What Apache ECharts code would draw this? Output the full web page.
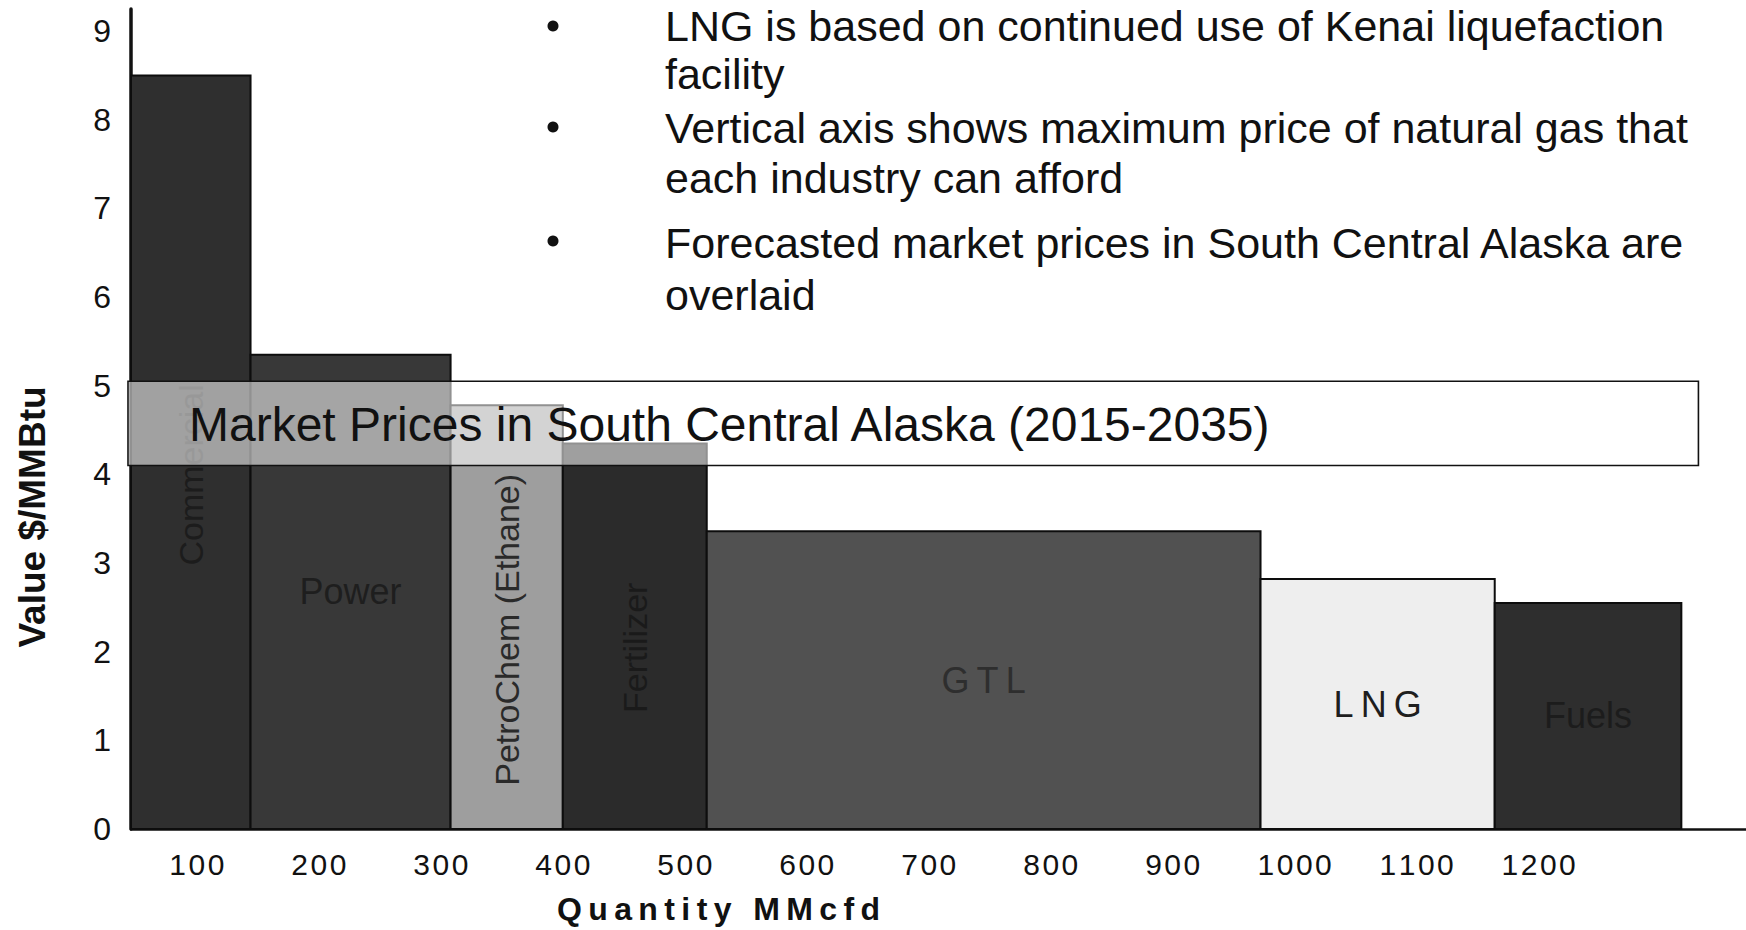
<!DOCTYPE html>
<html>
<head>
<meta charset="utf-8">
<script src="https://cdn.jsdelivr.net/npm/echarts@6/dist/echarts.min.js"></script>
<style>
  html, body { margin: 0; padding: 0; background: #ffffff; }
  #chart { width: 1746px; height: 930px; }
</style>
</head>
<body>
<div id="chart"></div>
<script>
// ---- data ----
const industries   = ['Commercial', 'Power', 'PetroChem (Ethane)', 'Fertilizer', 'GTL', 'LNG', 'Fuels'];
const qtyStart     = [46, 144, 308, 400, 518, 972, 1164];     // MMcfd, left edge of each block
const qtyEnd       = [144, 308, 400, 518, 972, 1164, 1317];   // MMcfd, right edge of each block
const maxValue     = [8.5, 5.35, 4.78, 4.35, 3.36, 2.82, 2.55]; // $/MMBtu
const marketLow    = 4.1;    // $/MMBtu
const marketHigh   = 5.05;   // $/MMBtu
const marketQty    = [46, 1331];
const marketTitle  = 'Market Prices in South Central Alaska (2015-2035)';
const xTickLabels  = [100, 200, 300, 400, 500, 600, 700, 800, 900, 1000, 1100, 1200];
const yTickLabels  = [0, 1, 2, 3, 4, 5, 6, 7, 8, 9];
const bulletLines  = [
  ['LNG is based on continued use of Kenai liquefaction', 'facility'],
  ['Vertical axis shows maximum price of natural gas that', 'each industry can afford'],
  ['Forecasted market prices in South Central Alaska are', 'overlaid']
];

// ---- styles (kept apart from data) ----
const FONT = '"Liberation Sans", Arial, Helvetica, sans-serif';
const barColors   = ['#2f2f2f', '#383838', '#9e9e9e', '#2b2b2b', '#515151', '#eeeeee', '#2e2e2e'];
const labelColors = ['#1c1c1c', '#1e1e1e', '#2a2a2a', '#1a1a1a', '#2e2e2e', '#1e1e1e', '#1c1c1c'];

const spaced = (s, sp) => String(s).split('').join(sp);

const barData = industries.map((n, i) => [qtyStart[i], qtyEnd[i], maxValue[i], n]);

const chart = echarts.init(document.getElementById('chart'), null, { renderer: 'svg' });

// bullet text graphics (each bullet = one two-line text)
const graphics = [];
const bulletY = [26, 127, 241];
const blockTop = [2, 103, 217];
const blockLH = [48, 50, 52];
bulletLines.forEach((pair, b) => {
  graphics.push({
    type: 'circle', shape: { cx: 553, cy: bulletY[b], r: 5.5 }, style: { fill: '#111' }, z: 10
  });
  graphics.push({
    type: 'text', x: 665, y: blockTop[b], z: 10,
    style: {
      text: pair.join('\n'), fill: '#111', font: '43px ' + FONT,
      lineHeight: blockLH[b], align: 'left', verticalAlign: 'top'
    }
  });
});

const option = {
  backgroundColor: '#ffffff',
  animation: false,
  grid: { left: 131, right: 0, top: 9, bottom: 98, containLabel: false },
  xAxis: {
    type: 'value', min: 46, max: 1370,
    name: spaced('Quantity MMcfd', '\u2009'),
    nameLocation: 'middle', nameGap: 64,
    nameTextStyle: { fontFamily: FONT, fontSize: 32, fontWeight: 'bold', color: '#111', padding: [0, 440, 0, 0] },
    axisLine: { show: true, onZero: true, lineStyle: { color: '#111', width: 2.5 } },
    axisTick: { show: false },
    splitLine: { show: false },
    axisLabel: {
      customValues: xTickLabels,
      formatter: v => spaced(v, '\u200A'),
      fontFamily: FONT, fontSize: 30, color: '#111', margin: 20
    }
  },
  yAxis: {
    type: 'value', min: 0, max: 9.25,
    name: 'Value $/MMBtu',
    nameLocation: 'middle', nameGap: 80, nameRotate: 90,
    nameTextStyle: { fontFamily: FONT, fontSize: 37, fontWeight: 'bold', color: '#111', padding: [0, 196, 0, 0] },
    axisLine: { show: true, lineStyle: { color: '#111', width: 3.5 } },
    axisTick: { show: false },
    splitLine: { show: false },
    axisLabel: {
      customValues: yTickLabels,
      fontFamily: FONT, fontSize: 32, color: '#111', margin: 20
    }
  },
  graphic: graphics,
  series: [
    {
      type: 'custom',
      name: 'Industries',
      z: 2,
      data: barData,
      encode: { x: [0, 1], y: 2 },
      renderItem: function (params, api) {
        const i = params.dataIndex;
        const x0 = api.value(0), x1 = api.value(1), h = api.value(2);
        const p0 = api.coord([x0, 0]);
        const p1 = api.coord([x1, h]);
        const w = p1[0] - p0[0];
        const ht = p0[1] - p1[1];
        const vertical = (x1 - x0) < 130;
        const cx = (p0[0] + p1[0]) / 2;
        const cy = p0[1] - ht * (vertical ? 0.47 : 0.5);
        const name = industries[i].length <= 3 ? spaced(industries[i], '\u2009') : industries[i];
        return {
          type: 'group',
          children: [
            {
              type: 'rect',
              shape: { x: p0[0], y: p1[1], width: w, height: ht },
              style: { fill: barColors[i], stroke: '#0d0d0d', lineWidth: 2 }
            },
            {
              type: 'text',
              x: cx, y: cy,
              rotation: vertical ? Math.PI / 2 : 0,
              style: {
                text: name,
                fill: labelColors[i],
                font: (vertical ? '34px ' : '36px ') + FONT,
                align: 'center', verticalAlign: 'middle'
              }
            }
          ]
        };
      }
    },
    {
      type: 'custom',
      name: 'Market',
      z: 3,
      data: [[marketQty[0], marketQty[1], marketLow, marketHigh]],
      encode: { x: [0, 1], y: [2, 3] },
      renderItem: function (params, api) {
        const a = api.coord([api.value(0), api.value(3)]);
        const b = api.coord([api.value(1), api.value(2)]);
        return {
          type: 'group',
          children: [
            {
              type: 'rect',
              shape: { x: a[0] - 3, y: a[1], width: b[0] - a[0] + 3, height: b[1] - a[1] },
              style: { fill: 'rgba(255,255,255,0.55)', stroke: '#111', lineWidth: 1.6 }
            },
            {
              type: 'text',
              x: a[0] + 58, y: (a[1] + b[1]) / 2 + 1,
              style: {
                text: marketTitle, fill: '#111', font: '48px ' + FONT,
                align: 'left', verticalAlign: 'middle'
              }
            }
          ]
        };
      }
    }
  ]
};

chart.setOption(option);
</script>
</body>
</html>
